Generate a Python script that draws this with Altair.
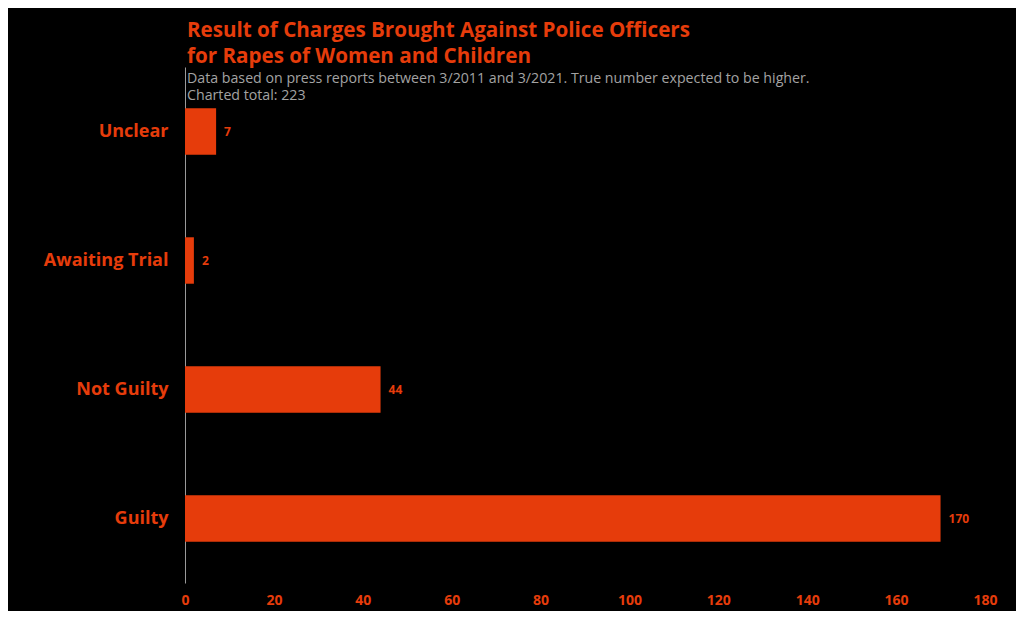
import altair as alt
import pandas as pd

categories = ["Unclear", "Awaiting Trial", "Not Guilty", "Guilty"]
counts = [7, 2, 44, 170]
x_ticks = [0, 20, 40, 60, 80, 100, 120, 140, 160, 180]

df = pd.DataFrame({"result": categories, "count": counts})

ORANGE = "#E63C0B"
FONT = "Open Sans"

base = alt.Chart(df).encode(
    y=alt.Y(
        "result:N",
        sort=categories,
        title=None,
        scale=alt.Scale(paddingInner=0.64, paddingOuter=0.32),
        axis=alt.Axis(
            labelColor=ORANGE,
            labelFont=FONT,
            labelFontSize=18,
            labelFontWeight="bold",
            labelPadding=17,
            ticks=False,
            domainColor="#9a9a9a",
            domainWidth=1,
            grid=False,
        ),
    ),
    x=alt.X(
        "count:Q",
        title=None,
        scale=alt.Scale(domain=[0, 180], nice=False),
        axis=alt.Axis(
            values=x_ticks,
            labelColor=ORANGE,
            labelFont=FONT,
            labelFontSize=14,
            labelFontWeight="bold",
            labelPadding=10,
            labelFlush=False,
            ticks=False,
            domain=False,
            grid=False,
        ),
    ),
)

bars = base.mark_bar(color=ORANGE)
labels = base.mark_text(
    align="left", baseline="middle", dx=8, color=ORANGE,
    font=FONT, fontSize=12, fontWeight="bold"
).encode(text="count:Q")

chart = (
    (bars + labels)
    .properties(
        width=800,
        height=516,
        background="black",
        padding={"left": 177, "top": 59, "right": 31, "bottom": 28},
        autosize=alt.AutoSizeParams(type="none"),
        title=alt.TitleParams(
            text=["Result of Charges Brought Against Police Officers",
                  "for Rapes of Women and Children"],
            subtitle=["Data based on press reports between 3/2011 and 3/2021. True number expected to be higher.",
                      "Charted total: 223"],
            anchor="start",
            frame="group",
            color=ORANGE,
            font=FONT,
            fontSize=20.6,
            fontWeight="bold",
            lineHeight=26,
            subtitleColor="#a3a3a3",
            subtitleFont=FONT,
            subtitleFontSize=14.2,
            subtitleLineHeight=17,
            subtitlePadding=4,
            offset=-36,
            dx=2,
        ),
    )
    .configure_view(stroke=None)
)

chart.save("out.html", embed_options={"renderer": "svg", "actions": False})
